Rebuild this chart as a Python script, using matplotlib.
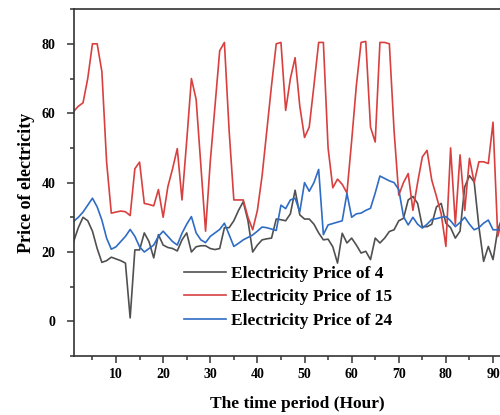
import matplotlib
matplotlib.use("Agg")
import matplotlib.pyplot as plt
from matplotlib.ticker import MultipleLocator

plt.rcParams['font.family'] = ['Liberation Serif', 'DejaVu Serif']

hours = list(range(1, 93))

price_4 = [23, 27, 30, 29, 26, 21, 17, 17.5, 18.5, 18,
           17.5, 16.8, 1, 20.6, 20.6, 25.5, 23, 18.3, 25, 22,
           21.3, 21, 20.3, 23.5, 25.5, 20, 21.5, 21.8, 21.8, 21,
           20.7, 21, 27, 27, 29, 32, 34.5, 29, 20, 22,
           23.5, 23.8, 24, 29.5, 29.3, 29, 31, 37.8, 30.7, 29.5,
           29.5, 28, 25.5, 23.5, 23.7, 21.5, 16.8, 25.4, 22.6, 24,
           22, 19.7, 20.2, 17.8, 24, 22.6, 24, 25.9, 26.4, 29,
           29.7, 35, 36, 34, 27.3, 27.3, 28, 33, 34, 28.3,
           27, 24, 26, 38.8, 42, 40.2, 27.3, 17.3, 21.6, 17.8,
           26.4, 30]

price_15 = [60.5, 62, 63, 70, 80, 80, 72, 46, 31.2, 31.5,
            31.8, 31.6, 30.5, 44, 45.9, 34, 33.7, 33.3, 38, 30,
            38.8, 44, 49.8, 35, 52, 70, 64, 45, 26, 46,
            62, 78, 80.4, 55, 35, 35, 35, 30, 26.4, 32,
            42, 55, 68, 80, 80.4, 60.8, 70, 76, 62, 53,
            56, 68, 80.4, 80.4, 50, 38.5, 41, 39.5, 37, 52,
            68, 80.4, 80.7, 56, 51.7, 80.4, 80.4, 80, 55, 36.4,
            40, 42.6, 32, 40, 47.4, 49.3, 40.7, 36, 31, 21.6,
            50, 28, 48, 32, 47, 40, 46, 46, 45.5, 57.4,
            24.5, 30]

price_24 = [28.8, 30, 31.5, 33.5, 35.5, 33, 29.2, 24, 20.8, 21.5,
            23, 24.5, 26.5, 24.5, 21.5, 20, 21, 22, 24.5, 26,
            24.5, 23, 22, 25.4, 28, 30.2, 25.5, 23.5, 22.7, 24.5,
            25.5, 26.5, 28.3, 25, 21.6, 22.5, 23.5, 24.2, 24.9, 26,
            27.2, 27, 26.6, 26.2, 33.5, 32.5, 35, 35.5, 31.6, 40,
            37.5, 40, 43.8, 25, 27.8, 28.2, 28.6, 29, 36.9, 30,
            31, 31.2, 32, 32.6, 37, 41.9, 41.2, 40.5, 40, 38,
            30.2, 27.8, 30, 28, 26.9, 28, 29.4, 29.6, 30, 30.2,
            29, 27.3, 28.5, 30, 28, 26.4, 27, 28.3, 29.2, 26.4,
            26.4, 26.4]

fig = plt.figure(figsize=(5, 4.15), dpi=100)
ax = fig.add_axes([0.1472, 0.142, 0.8954, 0.836])

ax.plot(hours, price_4, color='#505050', lw=1.2, label='Electricity Price of 4')
ax.plot(hours, price_15, color='#d8403f', lw=1.2, label='Electricity Price of 15')
ax.plot(hours, price_24, color='#2f6cc4', lw=1.2, label='Electricity Price of 24')

ax.set_xlim(1, 96)
ax.set_ylim(-10, 90)
ax.xaxis.set_major_locator(MultipleLocator(10))
ax.xaxis.set_minor_locator(MultipleLocator(5))
ax.yaxis.set_major_locator(MultipleLocator(20))
ax.yaxis.set_minor_locator(MultipleLocator(10))
ax.tick_params(which='both', direction='out', top=False, right=False, width=1.1, color='#333333')
ax.tick_params(which='major', length=5, labelsize=10)
ax.tick_params(axis='y', which='major', pad=8)
ax.tick_params(which='minor', length=3)
for lbl in ax.get_xticklabels() + ax.get_yticklabels():
    lbl.set_fontweight('bold')
for s in ax.spines.values():
    s.set_linewidth(1.2)
    s.set_color('#333333')

ax.set_xlabel('The time period (Hour)', fontsize=12.5, fontweight='bold', labelpad=11)
ax.set_ylabel('Price of electricity', fontsize=13, fontweight='bold', labelpad=5)

ax.legend(loc='upper left', bbox_to_anchor=(0.232, 0.28), frameon=False,
          prop={'size': 12.5, 'weight': 'bold'}, handlelength=2.4, handletextpad=0.3,
          labelspacing=0.42, borderaxespad=0)

fig.savefig('out.png', dpi=100)
